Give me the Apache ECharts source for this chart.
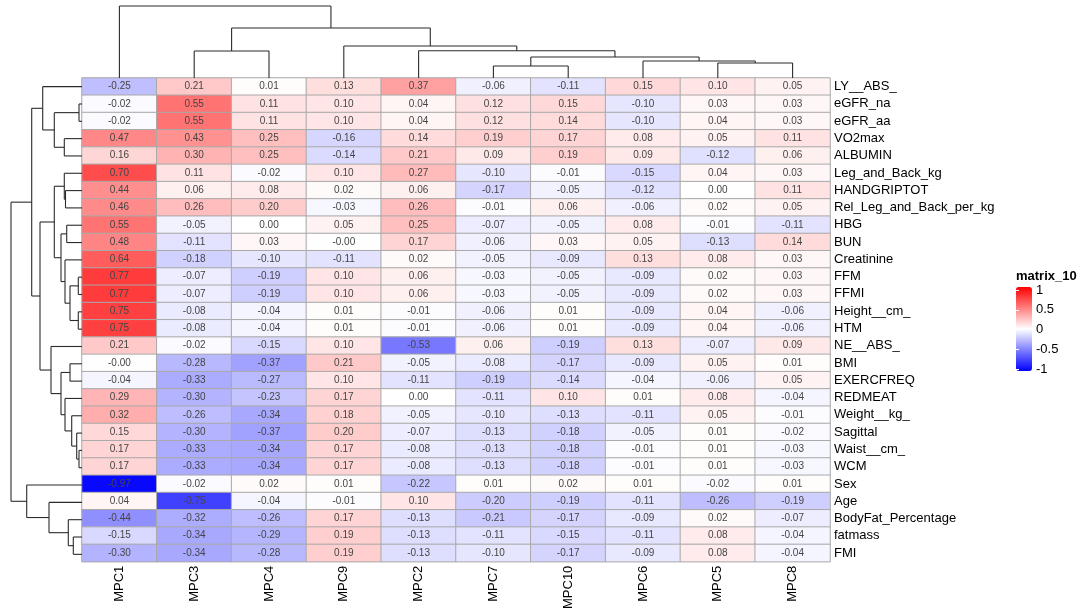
<!DOCTYPE html>
<html>
<head>
<meta charset="utf-8">
<script src="https://cdn.jsdelivr.net/npm/echarts@6/dist/echarts.min.js"></script>
<style>
html,body{margin:0;padding:0;background:#fff;}
#chart{width:1084px;height:612px;}
</style>
</head>
<body>
<div id="chart"></div>
<script>
// ---------- data ----------
const columns = ['MPC1','MPC3','MPC4','MPC9','MPC2','MPC7','MPC10','MPC6','MPC5','MPC8'];
const rows = ['LY__ABS_','eGFR_na','eGFR_aa','VO2max','ALBUMIN','Leg_and_Back_kg','HANDGRIPTOT',
  'Rel_Leg_and_Back_per_kg','HBG','BUN','Creatinine','FFM','FFMI','Height__cm_','HTM','NE__ABS_',
  'BMI','EXERCFREQ','REDMEAT','Weight__kg_','Sagittal','Waist__cm_','WCM','Sex','Age',
  'BodyFat_Percentage','fatmass','FMI'];
const matrixValues = [
  [-0.25, 0.21, 0.01, 0.13, 0.37,-0.06,-0.11, 0.15, 0.10, 0.05],
  [-0.02, 0.55, 0.11, 0.10, 0.04, 0.12, 0.15,-0.10, 0.03, 0.03],
  [-0.02, 0.55, 0.11, 0.10, 0.04, 0.12, 0.14,-0.10, 0.04, 0.03],
  [ 0.47, 0.43, 0.25,-0.16, 0.14, 0.19, 0.17, 0.08, 0.05, 0.11],
  [ 0.16, 0.30, 0.25,-0.14, 0.21, 0.09, 0.19, 0.09,-0.12, 0.06],
  [ 0.70, 0.11,-0.02, 0.10, 0.27,-0.10,-0.01,-0.15, 0.04, 0.03],
  [ 0.44, 0.06, 0.08, 0.02, 0.06,-0.17,-0.05,-0.12, 0.00, 0.11],
  [ 0.46, 0.26, 0.20,-0.03, 0.26,-0.01, 0.06,-0.06, 0.02, 0.05],
  [ 0.55,-0.05, 0.00, 0.05, 0.25,-0.07,-0.05, 0.08,-0.01,-0.11],
  [ 0.48,-0.11, 0.03,-0.004,0.17,-0.06, 0.03, 0.05,-0.13, 0.14],
  [ 0.64,-0.18,-0.10,-0.11, 0.02,-0.05,-0.09, 0.13, 0.08, 0.03],
  [ 0.77,-0.07,-0.19, 0.10, 0.06,-0.03,-0.05,-0.09, 0.02, 0.03],
  [ 0.77,-0.07,-0.19, 0.10, 0.06,-0.03,-0.05,-0.09, 0.02, 0.03],
  [ 0.75,-0.08,-0.04, 0.01,-0.01,-0.06, 0.01,-0.09, 0.04,-0.06],
  [ 0.75,-0.08,-0.04, 0.01,-0.01,-0.06, 0.01,-0.09, 0.04,-0.06],
  [ 0.21,-0.02,-0.15, 0.10,-0.53, 0.06,-0.19, 0.13,-0.07, 0.09],
  [-0.004,-0.28,-0.37,0.21,-0.05,-0.08,-0.17,-0.09, 0.05, 0.01],
  [-0.04,-0.33,-0.27, 0.10,-0.11,-0.19,-0.14,-0.04,-0.06, 0.05],
  [ 0.29,-0.30,-0.23, 0.17, 0.00,-0.11, 0.10, 0.01, 0.08,-0.04],
  [ 0.32,-0.26,-0.34, 0.18,-0.05,-0.10,-0.13,-0.11, 0.05,-0.01],
  [ 0.15,-0.30,-0.37, 0.20,-0.07,-0.13,-0.18,-0.05, 0.01,-0.02],
  [ 0.17,-0.33,-0.34, 0.17,-0.08,-0.13,-0.18,-0.01, 0.01,-0.03],
  [ 0.17,-0.33,-0.34, 0.17,-0.08,-0.13,-0.18,-0.01, 0.01,-0.03],
  [-0.97,-0.02, 0.02, 0.01,-0.22, 0.01, 0.02, 0.01,-0.02, 0.01],
  [ 0.04,-0.75,-0.04,-0.01, 0.10,-0.20,-0.19,-0.11,-0.26,-0.19],
  [-0.44,-0.32,-0.26, 0.17,-0.13,-0.21,-0.17,-0.09, 0.02,-0.07],
  [-0.15,-0.34,-0.29, 0.19,-0.13,-0.11,-0.15,-0.11, 0.08,-0.04],
  [-0.30,-0.34,-0.28, 0.19,-0.13,-0.10,-0.17,-0.09, 0.08,-0.04]
];
// dendrograms: [left, right, mergeHeight]; numbers are leaf positions in display order
const rowTree = [
  [
    [0, [[1, 2, 0.3], [3, 4, 1.77], 2.77], 3.93],
    [
      [[5, [6, 7, 1.65], 1.77], [[8, 9, 1.53], [10, [[11, 12, 0.37], [13, 14, 0.37], 1.2], 1.7], 2.1], 2.77],
      [15, [[16, 17, 1.2], [18, [19, [20, [21, 22, 0.3], 0.53], 1.03], 1.7], 2.1], 3.1],
      4.2
    ],
    5.03
  ],
  [23, [24, [25, [26, 27, 0.87], 1.37], 3.3], 5.53],
  7.1
];
const colTree = [0, [[1, 2, 2.7], [3, [4, [[5, 6, 1.2], [7, [8, 9, 1.5], 1.7], 2.1], 2.73], 3.2], 5.0], 7.2];
const legendTicks = [-1, -0.5, 0, 0.5, 1];
const colorStops = ['#0000FF', '#FFFFFF', '#FF0000'];

// ---------- build series data ----------
const heatData = [];
rows.forEach((r, ri) => columns.forEach((c, ci) => heatData.push([ci, ri, matrixValues[ri][ci]])));

function dendroSegments(tree){
  const segs=[];
  function walk(n){
    if(typeof n==='number') return {pos:n,h:0};
    const L=walk(n[0]),R=walk(n[1]),h=n[2];
    segs.push([L.h,L.pos,h,L.pos]);
    segs.push([R.h,R.pos,h,R.pos]);
    segs.push([h,L.pos,h,R.pos]);
    return {pos:(L.pos+R.pos)/2,h:h};
  }
  walk(tree);
  return segs;
}
const rowSegs = dendroSegments(rowTree);                       // [h, pos, h, pos]
const colSegs = dendroSegments(colTree).map(s => [s[1], s[0], s[3], s[2]]); // [pos, h, pos, h]

function lineRender(params, api){
  const p1 = api.coord([api.value(0), api.value(1)]);
  const p2 = api.coord([api.value(2), api.value(3)]);
  return {type:'line', shape:{x1:p1[0],y1:p1[1],x2:p2[0],y2:p2[1]},
          style:{stroke:'#2b2b2b', lineWidth:1.1}};
}

const FONT = "'Liberation Sans', Arial, Helvetica, sans-serif";
const hidden = {show:false};

const option = {
  animation:false,
  textStyle:{fontFamily:FONT},
  title:{text:'matrix_10', left:1016, top:270, padding:0,
    textStyle:{fontSize:13, fontWeight:'bold', color:'#000', fontFamily:FONT}},
  grid:[
    {left:82, right:254, top:78, bottom:49},
    {left:0, width:82, top:78, bottom:49},
    {left:82, right:254, top:0, height:78},
    {left:1016, width:16, top:290, height:79}
  ],
  xAxis:[
    {type:'category', gridIndex:0, data:columns, position:'bottom',
      axisLine:hidden, axisTick:hidden, splitLine:hidden,
      axisLabel:{rotate:90, margin:4, fontSize:13, color:'#000', fontFamily:FONT}},
    {type:'value', gridIndex:1, min:0, max:8.2, inverse:true, show:false},
    {type:'value', gridIndex:2, min:-0.5, max:9.5, show:false},
    {type:'value', gridIndex:3, min:0, max:1, show:false}
  ],
  yAxis:[
    {type:'category', gridIndex:0, data:rows, inverse:true, position:'right',
      axisLine:hidden, axisTick:hidden, splitLine:hidden,
      axisLabel:{margin:4, fontSize:13, color:'#000', fontFamily:FONT}},
    {type:'value', gridIndex:1, min:-0.5, max:27.5, inverse:true, show:false},
    {type:'value', gridIndex:2, min:0, max:7.8, show:false},
    {type:'value', gridIndex:3, min:legendTicks[0], max:legendTicks[legendTicks.length-1], interval:0.5,
      position:'right', z:10, axisLine:hidden, splitLine:hidden,
      axisTick:{show:true, inside:true, length:3, lineStyle:{color:'#fff', width:1}},
      axisLabel:{margin:4, fontSize:13, color:'#000', fontFamily:FONT}},
    {type:'value', gridIndex:3, min:legendTicks[0], max:legendTicks[legendTicks.length-1], interval:0.5,
      position:'left', z:10, axisLine:hidden, splitLine:hidden, axisLabel:hidden,
      axisTick:{show:true, inside:true, length:3, lineStyle:{color:'#fff', width:1}}}
  ],
  visualMap:{
    type:'continuous', min:-1, max:1, dimension:2, seriesIndex:0,
    calculable:false, orient:'vertical', left:1016, top:287, padding:0,
    itemWidth:16, itemHeight:84, text:null, showLabel:false,
    inRange:{color:colorStops}
  },
  series:[
    {type:'heatmap', xAxisIndex:0, yAxisIndex:0, data:heatData,
      itemStyle:{borderColor:'#a9a9a9', borderWidth:1},
      label:{show:true, fontSize:10, color:'#454545', fontFamily:FONT,
        formatter:p => p.value[2].toFixed(2)},
      emphasis:{disabled:true}},
    {type:'custom', xAxisIndex:1, yAxisIndex:1, data:rowSegs, renderItem:lineRender,
      encode:{x:[0,2], y:[1,3]}, silent:true},
    {type:'custom', xAxisIndex:2, yAxisIndex:2, data:colSegs, renderItem:lineRender,
      encode:{x:[0,2], y:[1,3]}, silent:true}
  ]
};
const chart = echarts.init(document.getElementById('chart'), null, {renderer:'canvas'});
chart.setOption(option);
</script>
</body>
</html>
